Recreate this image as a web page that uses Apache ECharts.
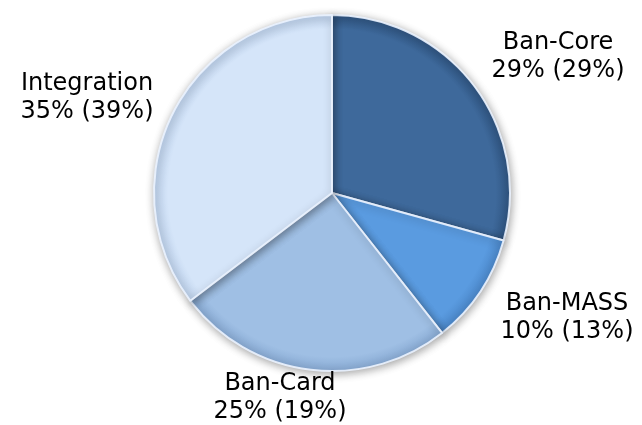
<!DOCTYPE html>
<html>
<head>
<meta charset="utf-8">
<script src="https://cdn.jsdelivr.net/npm/echarts@6/dist/echarts.min.js"></script>
<style>
html,body{margin:0;padding:0;background:#fff;}
#c{width:642px;height:425px;}
</style>
</head>
<body>
<div id="c"></div>
<script>
const categories = ['Ban-Core', 'Ban-MASS', 'Ban-Card', 'Integration'];
const shares = [29, 10, 25, 35];
const previousShares = [29, 13, 19, 39];

const sliceColors = ['#3e699b', '#5a9be0', '#9fbfe4', '#d5e5f9'];
const rimColors = ['#2f5480', '#4a86c8', '#87a9d2', '#bcd0ea'];
const labelPos = [[558, 57], [567, 318], [280, 398], [87, 98]];

const CX = 332, CY = 193, R = 178;

const chart = echarts.init(document.getElementById('c'), null, {renderer: 'canvas'});
chart.setOption({
  animation: false,
  backgroundColor: '#ffffff',
  series: [{
    type: 'pie',
    center: [CX, CY],
    radius: [0, R],
    startAngle: 90,
    clockwise: true,
    avoidLabelOverlap: false,
    labelLine: {show: false},
    label: {
      show: true,
      position: 'outside',
      fontFamily: 'DejaVu Sans',
      fontSize: 24,
      lineHeight: 28,
      color: '#000',
      align: 'center',
      formatter: p => p.name + '\n' + shares[p.dataIndex] + '% (' + previousShares[p.dataIndex] + '%)'
    },
    labelLayout: p => ({
      x: labelPos[p.dataIndex][0],
      y: labelPos[p.dataIndex][1],
      align: 'center',
      verticalAlign: 'middle'
    }),
    data: categories.map((n, i) => ({
      name: n,
      value: shares[i],
      itemStyle: {
        color: {
          type: 'radial', x: CX, y: CY, r: R, global: true,
          colorStops: [
            {offset: 0, color: sliceColors[i]},
            {offset: 0.92, color: sliceColors[i]},
            {offset: 1, color: rimColors[i]}
          ]
        },
        borderColor: 'rgba(235,243,255,0.9)',
        borderWidth: 2,
        shadowBlur: 8,
        shadowColor: 'rgba(0,0,0,0.35)',
        shadowOffsetX: 1,
        shadowOffsetY: 2
      }
    })),
    emphasis: {disabled: true}
  }]
});
</script>
</body>
</html>
